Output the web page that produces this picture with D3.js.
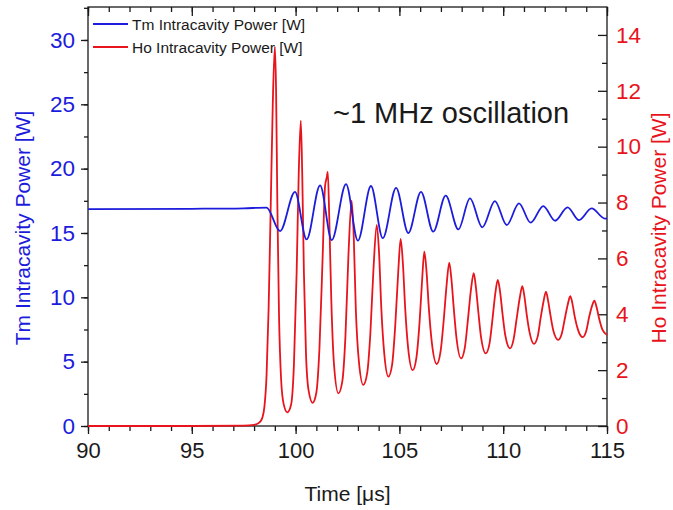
<!DOCTYPE html>
<html>
<head>
<meta charset="utf-8">
<script src="https://cdn.jsdelivr.net/npm/d3@7"></script>
<style>
  body { margin: 0; background: #fff; }
  text { font-family: Arial, "Liberation Sans", sans-serif; }
</style>
</head>
<body>
<svg id="chart" width="673" height="510"></svg>
<script>
// time axis ticks [us]
var timeTicks = [90, 95, 100, 105, 110, 115];
var tmTicks = [0, 5, 10, 15, 20, 25, 30];
var hoTicks = [0, 2, 4, 6, 8, 10, 12, 14];

// Tm intracavity power (extrema of the oscillation)
var tmTime  = [90, 95, 97.5, 98.6, 99.25, 99.97, 100.53, 101.18, 101.74, 102.43, 103.0, 103.63,
               104.2, 104.84, 105.43, 106.04, 106.63, 107.23, 107.84, 108.4, 108.99, 109.6,
               110.17, 110.76, 111.32, 111.93, 112.5, 113.1, 113.65, 114.26, 114.9, 115];
var tmPower = [16.85, 16.88, 16.92, 16.97, 15.15, 18.2, 14.5, 18.7, 14.45, 18.8, 14.4, 18.65,
               14.6, 18.5, 15.0, 18.2, 15.1, 17.9, 15.28, 17.69, 15.44, 17.48,
               15.62, 17.3, 15.8, 17.09, 15.95, 16.99, 16.0, 16.91, 16.12, 16.14];

// Ho intracavity power
var hoTime  = [90, 95, 97.5, 98.0, 98.25, 98.4, 98.5, 98.6, 98.7, 98.8, 98.9, 99.0, 99.06, 99.12,
               99.2, 99.3, 99.42, 99.6, 99.78, 99.92, 100.05, 100.15, 100.25, 100.32, 100.4,
               100.5, 100.62, 100.82, 101.0, 101.15, 101.3, 101.42, 101.5, 101.55, 101.62,
               101.72, 101.85, 102.06, 102.25, 102.4, 102.55, 102.7, 102.8, 102.9, 103.05,
               103.26, 103.45, 103.6, 103.75, 103.91, 104.02, 104.13, 104.27, 104.47, 104.65,
               104.8, 104.95, 105.06, 105.17, 105.28, 105.42, 105.64, 105.82, 105.97, 106.1,
               106.2, 106.3, 106.42, 106.56, 106.8, 106.98, 107.13, 107.28, 107.4, 107.5,
               107.62, 107.75, 107.97, 108.15, 108.3, 108.45, 108.58, 108.68, 108.8, 108.93,
               109.16, 109.34, 109.48, 109.62, 109.74, 109.85, 109.97, 110.1, 110.33, 110.5,
               110.65, 110.8, 110.92, 111.02, 111.14, 111.27, 111.48, 111.66, 111.8, 111.94,
               112.06, 112.16, 112.28, 112.42, 112.65, 112.82, 112.97, 113.11, 113.23, 113.33,
               113.45, 113.6, 113.83, 114.0, 114.14, 114.28, 114.39, 114.5, 114.62, 114.78, 115];
var hoPower = [0, 0, 0.01, 0.04, 0.12, 0.3, 0.7, 1.8, 4.2, 7.8, 11.5, 13.58, 12.0, 8.0,
               4.0, 1.7, 0.8, 0.49, 0.75, 2.2, 5.5, 9.0, 10.93, 9.0, 5.5,
               2.6, 1.3, 0.83, 1.2, 2.8, 6.0, 8.6, 8.9, 9.1, 7.5,
               4.5, 2.2, 1.17, 1.6, 3.2, 6.2, 8.07, 6.8, 4.2, 2.3,
               1.47, 1.9, 3.3, 5.6, 7.2, 6.2, 4.2, 2.6, 1.77, 2.2,
               3.6, 5.6, 6.7, 5.8, 4.2, 2.8, 2.0, 2.45, 3.7, 5.3,
               6.24, 5.6, 4.2, 3.0, 2.22, 2.65, 3.75, 5.1, 5.85, 5.3,
               4.2, 3.15, 2.42, 2.8, 3.8, 4.9, 5.47, 5.0, 4.1, 3.2,
               2.6, 2.95, 3.8, 4.75, 5.23, 4.8, 4.0, 3.25, 2.78, 3.1,
               3.85, 4.6, 5.01, 4.65, 3.95, 3.35, 2.94, 3.2, 3.85, 4.45,
               4.81, 4.5, 3.95, 3.4, 3.08, 3.3, 3.85, 4.35, 4.65, 4.4,
               3.9, 3.45, 3.18, 3.4, 3.9, 4.3, 4.49, 4.25, 3.85, 3.45, 3.26];

var seriesNames = ["Tm Intracavity Power [W]", "Ho Intracavity Power [W]"];

var blue = "#1c1cdc", red = "#e8141c", ink = "#1a1a1a";
// plot box (note: "top" is taken by window.top)
var pLeft = 88, pRight = 607, pTop = 7, pBottom = 426;

var svg = d3.select("#chart");
svg.append("rect").attr("width", 673).attr("height", 510).attr("fill", "#fff");

var x = d3.scaleLinear().domain([90, 115]).range([pLeft, pRight]);
var yL = d3.scaleLinear().domain([0, 32.5]).range([pBottom, 7.8]);
var yR = d3.scaleLinear().domain([0, 15]).range([pBottom, pTop]);

function styleAxis(g, color, size) {
    g.select(".domain").remove();
    g.selectAll(".tick line").attr("stroke", ink).attr("stroke-width", 1.3);
    g.selectAll(".tick text")
        .attr("fill", color)
        .style("font-size", size + "px");
}

// minor ticks first so majors sit on top
var minorT = d3.range(90, 115.01, 1);
svg.append("g").attr("transform", "translate(0," + pBottom + ")")
    .call(d3.axisBottom(x).tickValues(minorT).tickSize(5).tickFormat(""))
    .call(styleAxis, ink, 22);
svg.append("g").attr("transform", "translate(0," + pBottom + ")")
    .call(d3.axisBottom(x).tickValues(timeTicks).tickSize(8).tickPadding(8))
    .call(styleAxis, ink, 22);

// top mirror, ticks pointing into the plot
svg.append("g").attr("transform", "translate(0," + pTop + ")")
    .call(d3.axisBottom(x).tickValues(minorT).tickSize(5).tickFormat(""))
    .call(styleAxis, ink, 22);
svg.append("g").attr("transform", "translate(0," + pTop + ")")
    .call(d3.axisBottom(x).tickValues(timeTicks).tickSize(9).tickFormat(""))
    .call(styleAxis, ink, 22);

// left axis (Tm)
svg.append("g").attr("transform", "translate(" + pLeft + ",0)")
    .call(d3.axisLeft(yL).tickValues(d3.range(0, 32.6, 2.5)).tickSize(4).tickFormat(""))
    .call(styleAxis, blue, 22);
svg.append("g").attr("transform", "translate(" + pLeft + ",0)")
    .call(d3.axisLeft(yL).tickValues(tmTicks).tickSize(7).tickPadding(6))
    .call(styleAxis, blue, 22.5);

// right axis (Ho), ticks inward
svg.append("g").attr("transform", "translate(" + pRight + ",0)")
    .call(d3.axisRight(yR).tickValues(d3.range(1, 15, 2)).tickSize(-5).tickFormat(""))
    .call(styleAxis, red, 22);
svg.append("g").attr("transform", "translate(" + pRight + ",0)")
    .call(d3.axisRight(yR).tickValues(hoTicks).tickSize(-9).tickPadding(9))
    .call(styleAxis, red, 22.5);

// frame
svg.append("rect")
    .attr("x", pLeft).attr("y", pTop)
    .attr("width", pRight - pLeft).attr("height", pBottom - pTop)
    .attr("fill", "none").attr("stroke", ink).attr("stroke-width", 1.3);

var tmData = tmTime.map(function(t, i) { return [t, tmPower[i]]; });
var hoData = hoTime.map(function(t, i) { return [t, hoPower[i]]; });

var lineL = d3.line().x(function(d) { return x(d[0]); }).y(function(d) { return yL(d[1]); })
    .curve(d3.curveMonotoneX);
var lineR = d3.line().x(function(d) { return x(d[0]); }).y(function(d) { return yR(d[1]); })
    .curve(d3.curveMonotoneX);

svg.append("path").datum(hoData).attr("d", lineR)
    .attr("fill", "none").attr("stroke", red).attr("stroke-width", 1.8);
svg.append("path").datum(tmData).attr("d", lineL)
    .attr("fill", "none").attr("stroke", blue).attr("stroke-width", 1.8);

// legend
var legend = svg.append("g");
[blue, red].forEach(function(c, i) {
    var ly = 24 + i * 23;
    legend.append("line").attr("x1", 93).attr("x2", 128).attr("y1", ly).attr("y2", ly)
        .attr("stroke", c).attr("stroke-width", 2);
    legend.append("text").attr("x", 132).attr("y", ly + 6)
        .attr("fill", ink).style("font-size", "15.5px")
        .text(seriesNames[i]);
});

// annotation
svg.append("text").attr("x", 333).attr("y", 123)
    .attr("fill", ink).style("font-size", "29px")
    .text("~1 MHz oscillation");

// axis titles
svg.append("text")
    .attr("transform", "translate(" + (pLeft + pRight) / 2 + ",501)")
    .attr("text-anchor", "middle").attr("fill", ink).style("font-size", "21px")
    .text("Time [\u03bcs]");
svg.append("text")
    .attr("transform", "translate(30,228) rotate(-90)")
    .attr("text-anchor", "middle").attr("fill", blue).style("font-size", "21px")
    .text("Tm Intracavity Power [W]");
svg.append("text")
    .attr("transform", "translate(666,228) rotate(-90)")
    .attr("text-anchor", "middle").attr("fill", red).style("font-size", "21px")
    .text("Ho Intracavity Power [W]");
</script>
</body>
</html>
